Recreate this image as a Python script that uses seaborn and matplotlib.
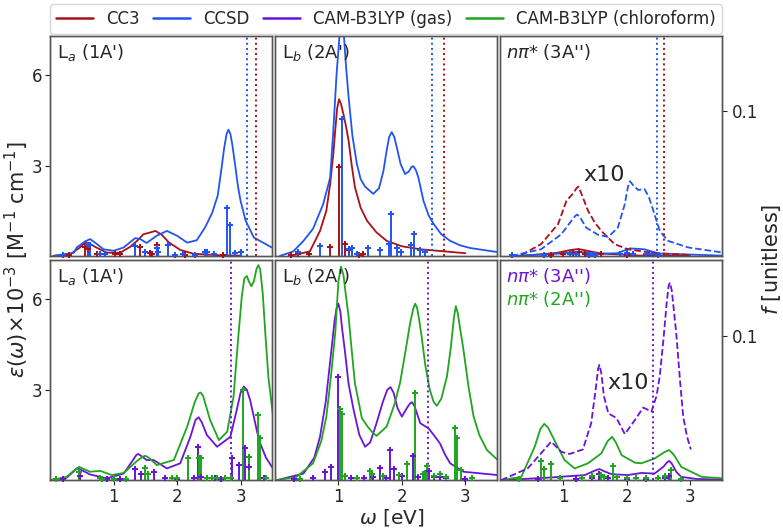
import numpy as np
import pandas as pd
import seaborn as sns
import matplotlib.pyplot as plt

sns.set_style("ticks")
plt.rcParams['font.family'] = ['DejaVu Sans']

# colours
CC3 = '#A8101A'
CCSD = '#2255F0'
GAS = '#6A14D8'
CHL = '#1FA51F'

# ---- top row, La (1A') ----
la_cc3_x = [0.05, 0.32, 0.47, 0.54, 0.58, 0.62, 0.71, 0.89, 1.10, 1.26, 1.37, 1.47, 1.58, 1.66, 1.76, 1.87, 2.05,
            2.26, 2.68, 3.00]
la_cc3_y = [0.00, 0.06, 0.28, 0.42, 0.44, 0.41, 0.30, 0.11, 0.10, 0.30, 0.50, 0.72, 0.78, 0.83, 0.70, 0.45, 0.20,
            0.07, 0.02, 0.01]
la_ccsd_x = [0.05, 0.37, 0.42, 0.55, 0.63, 0.74, 0.84, 1.00, 1.16, 1.34, 1.42, 1.52, 1.68, 1.84, 2.00, 2.16, 2.31,
             2.44, 2.55, 2.64, 2.70, 2.74, 2.78, 2.81, 2.84, 2.87, 2.92, 2.96, 3.00, 3.08, 3.21, 3.51]
la_ccsd_y = [0.00, 0.10, 0.28, 0.48, 0.56, 0.39, 0.22, 0.17, 0.28, 0.59, 0.56, 0.43, 0.67, 0.83, 0.67, 0.44, 0.52,
             0.94, 1.41, 2.00, 2.90, 3.55, 4.05, 4.19, 4.05, 3.70, 2.94, 2.30, 1.83, 1.17, 0.61, 0.26]
la_cc3_stick_x = [0.29, 0.55, 0.59, 0.74, 1.02, 1.10, 1.42, 1.58, 1.61, 1.68, 2.13, 2.73]
la_cc3_stick_f = [0.0008, 0.006, 0.005, 0.001, 0.001, 0.001, 0.006, 0.0022, 0.0015, 0.0077, 0.0008, 0.0005]
la_ccsd_stick_x = [0.21, 0.59, 0.63, 0.78, 0.87, 1.34, 1.50, 1.68, 1.70, 1.85, 1.97, 2.10, 2.29, 2.44, 2.47, 2.58,
                   2.79, 2.84, 2.92, 3.00]
la_ccsd_stick_f = [0.0008, 0.0072, 0.0077, 0.001, 0.001, 0.0066, 0.003, 0.0054, 0.003, 0.0077, 0.0008, 0.001,
                   0.0008, 0.003, 0.0025, 0.001, 0.0334, 0.0212, 0.0022, 0.0025]

# ---- top row, Lb (2A') ----
lb_cc3_x = [0.24, 0.55, 0.71, 0.81, 0.87, 0.92, 0.95, 0.98, 1.01, 1.04, 1.08, 1.12, 1.16, 1.21, 1.26, 1.35, 1.45,
            1.60, 1.76, 2.00, 2.29, 3.00]
lb_cc3_y = [0.00, 0.15, 0.83, 1.50, 2.39, 3.40, 4.17, 4.90, 5.20, 5.05, 4.70, 4.30, 3.83, 3.00, 2.28, 1.60, 1.17,
            0.78, 0.50, 0.32, 0.22, 0.09]
lb_ccsd_x = [0.08, 0.29, 0.45, 0.60, 0.76, 0.87, 0.92, 0.97, 1.02, 1.05, 1.08, 1.12, 1.16, 1.22, 1.29, 1.35, 1.42,
             1.55, 1.64, 1.71, 1.76, 1.80, 1.84, 1.88, 1.92, 1.98, 2.05, 2.11, 2.15, 2.18, 2.22, 2.26, 2.34, 2.42,
             2.50, 2.62, 2.76, 2.92, 3.08, 3.50]
lb_ccsd_y = [0.00, 0.15, 0.50, 0.90, 1.72, 2.60, 4.17, 6.00, 7.40, 7.80, 7.50, 6.30, 5.28, 4.00, 3.06, 2.55, 2.30,
             2.06, 2.25, 2.83, 3.50, 3.95, 4.11, 3.95, 3.60, 3.05, 2.72, 2.80, 2.95, 2.98, 2.85, 2.60, 1.83, 1.35,
             1.06, 0.72, 0.50, 0.35, 0.26, 0.13]
lb_cc3_stick_x = [0.25, 0.36, 0.53, 0.87, 1.01, 1.10, 1.17, 1.32, 1.38]
lb_cc3_stick_f = [0.0008, 0.0015, 0.0015, 0.006, 0.0615, 0.008, 0.004, 0.0008, 0.0015]
lb_ccsd_stick_x = [0.37, 0.71, 1.05, 1.16, 1.22, 1.30, 1.47, 1.66, 1.80, 1.83, 1.92, 1.98, 2.14, 2.19, 2.28, 2.36]
lb_ccsd_stick_f = [0.0028, 0.0066, 0.0948, 0.0045, 0.0054, 0.001, 0.0056, 0.0038, 0.0084, 0.029, 0.0054, 0.0025,
                   0.0072, 0.015, 0.004, 0.0025]

# ---- top row, n pi* (3A'') ----
np_cc3_x = [0.34, 0.90, 1.10, 1.24, 1.40, 1.60, 2.20, 3.00]
np_cc3_y = [0.00, 0.10, 0.19, 0.23, 0.16, 0.08, 0.01, 0.00]
np_cc3_x10_x = [0.34, 0.65, 0.92, 1.05, 1.15, 1.21, 1.24, 1.28, 1.39, 1.50, 1.60, 1.81, 2.02, 2.28, 2.55, 3.00]
np_cc3_x10_y = [0.03, 0.39, 1.06, 1.83, 2.06, 2.25, 2.30, 2.10, 1.50, 1.10, 0.83, 0.39, 0.22, 0.14, 0.08, 0.03]
np_ccsd_x = [0.20, 0.90, 1.22, 1.55, 1.85, 2.05, 2.28, 2.50, 3.50]
np_ccsd_y = [0.00, 0.07, 0.14, 0.07, 0.09, 0.25, 0.22, 0.08, 0.01]
np_ccsd_x10_x = [0.18, 0.65, 0.97, 1.13, 1.19, 1.22, 1.26, 1.36, 1.55, 1.71, 1.86, 1.97, 2.02, 2.05, 2.10, 2.18,
                 2.28, 2.35, 2.42, 2.52, 2.65, 2.97, 3.52]
np_ccsd_x10_y = [0.00, 0.22, 0.72, 1.17, 1.33, 1.37, 1.30, 0.94, 0.70, 0.63, 0.94, 1.72, 2.30, 2.48, 2.35, 2.19,
                 2.22, 1.95, 1.50, 0.83, 0.50, 0.28, 0.11]
np_cc3_stick_x = [0.80, 1.00, 1.15, 1.25, 1.35, 1.60, 2.00]
np_cc3_stick_f = [0.0008, 0.0015, 0.002, 0.0025, 0.0015, 0.001, 0.0005]
np_ccsd_stick_x = [0.20, 0.70, 1.10, 1.20, 1.40, 1.50, 1.90, 2.00, 2.10, 2.30, 2.40, 2.50]
np_ccsd_stick_f = [0.0005, 0.0008, 0.0012, 0.0015, 0.0008, 0.0008, 0.0012, 0.002, 0.0015, 0.001, 0.0012, 0.0008]

# ---- bottom row, La (1A') ----
la_gas_x = [0.00, 0.26, 0.40, 0.44, 0.50, 0.63, 0.89, 1.16, 1.30, 1.36, 1.39, 1.45, 1.52, 1.63, 1.84, 2.05, 2.21,
            2.29, 2.34, 2.39, 2.47, 2.63, 2.84, 2.94, 3.00, 3.05, 3.10, 3.15, 3.22, 3.29, 3.40, 3.51]
la_gas_y = [0.00, 0.08, 0.35, 0.39, 0.33, 0.19, 0.06, 0.22, 0.65, 0.84, 0.87, 0.78, 0.67, 0.67, 0.39, 0.56, 1.44,
            2.00, 2.09, 1.92, 1.50, 1.11, 1.44, 2.33, 2.90, 3.11, 3.00, 2.67, 2.00, 1.33, 0.75, 0.39]
la_chl_x = [0.00, 0.26, 0.41, 0.46, 0.52, 0.63, 0.79, 0.97, 1.16, 1.37, 1.46, 1.50, 1.56, 1.68, 1.95, 2.16, 2.28,
            2.34, 2.37, 2.41, 2.52, 2.66, 2.79, 2.89, 2.97, 3.02, 3.06, 3.10, 3.13, 3.17, 3.21, 3.25, 3.28, 3.31,
            3.35, 3.39, 3.44, 3.51]
la_chl_y = [0.00, 0.11, 0.38, 0.44, 0.38, 0.28, 0.31, 0.17, 0.24, 0.64, 0.78, 0.81, 0.74, 0.50, 0.67, 1.78, 2.60,
            2.88, 2.91, 2.80, 2.00, 1.33, 1.61, 2.78, 4.89, 6.10, 6.70, 6.78, 6.60, 6.44, 6.60, 7.00, 7.14, 7.00,
            6.20, 4.89, 3.40, 2.17]
la_gas_stick_x = [0.20, 0.45, 0.47, 0.90, 1.10, 1.34, 1.43, 1.63, 1.81, 2.00, 2.26, 2.33, 2.37, 2.60, 2.70, 2.87,
                  2.97, 3.07, 3.14, 3.37]
la_gas_stick_f = [0.0008, 0.0058, 0.003, 0.001, 0.001, 0.008, 0.0046, 0.0058, 0.0015, 0.001, 0.0015, 0.023, 0.0025,
                  0.0012, 0.001, 0.0156, 0.0104, 0.0225, 0.0092, 0.0015]
la_chl_stick_x = [0.10, 0.45, 0.79, 0.82, 1.00, 1.20, 1.50, 1.55, 1.92, 2.00, 2.18, 2.35, 2.38, 2.47, 2.55, 2.63,
                  2.75, 2.85, 3.04, 3.14, 3.28, 3.31, 3.40]
la_chl_stick_f = [0.0008, 0.0058, 0.0012, 0.001, 0.0008, 0.0008, 0.0085, 0.004, 0.0015, 0.0012, 0.015, 0.0154,
                  0.015, 0.0015, 0.0015, 0.0012, 0.0015, 0.0012, 0.062, 0.016, 0.045, 0.029, 0.0015]

# ---- bottom row, Lb (2A') ----
lb_gas_x = [0.03, 0.45, 0.62, 0.71, 0.80, 0.89, 0.94, 0.97, 1.00, 1.03, 1.06, 1.10, 1.16, 1.24, 1.33, 1.42, 1.50,
            1.60, 1.70, 1.77, 1.82, 1.87, 1.93, 2.00, 2.08, 2.13, 2.16, 2.20, 2.29, 2.42, 2.52, 2.60, 2.68, 2.76,
            2.97, 3.51]
lb_gas_y = [0.00, 0.22, 0.75, 1.44, 2.60, 4.33, 5.30, 5.70, 5.86, 5.60, 5.00, 4.33, 3.20, 2.33, 1.50, 1.11, 1.25,
            1.89, 2.60, 3.00, 3.09, 2.90, 2.40, 2.11, 2.40, 2.55, 2.59, 2.45, 1.89, 1.72, 1.45, 1.22, 0.85, 0.56,
            0.28, 0.17]
lb_chl_x = [0.03, 0.34, 0.60, 0.73, 0.81, 0.88, 0.95, 1.00, 1.04, 1.08, 1.12, 1.16, 1.21, 1.26, 1.37, 1.46, 1.53,
            1.60, 1.76, 1.88, 1.97, 2.05, 2.13, 2.18, 2.21, 2.24, 2.27, 2.31, 2.37, 2.44, 2.50, 2.55, 2.62, 2.71,
            2.77, 2.82, 2.85, 2.88, 2.92, 2.97, 3.05, 3.13, 3.22, 3.34, 3.51]
lb_chl_y = [0.00, 0.11, 0.56, 1.30, 2.11, 3.40, 4.89, 6.60, 7.09, 6.80, 6.10, 5.44, 4.30, 3.22, 2.06, 1.78, 1.60,
            1.47, 1.78, 2.50, 3.22, 4.20, 5.22, 5.70, 5.86, 5.72, 5.35, 4.78, 3.80, 3.00, 2.60, 2.47, 2.70, 3.44,
            4.40, 5.40, 5.78, 5.55, 5.00, 4.33, 3.10, 2.11, 1.50, 1.00, 0.67]
lb_gas_stick_x = [0.30, 0.60, 0.79, 0.89, 1.00, 1.20, 1.40, 1.55, 1.65, 1.75, 1.81, 1.88, 2.00, 2.17, 2.25, 2.42,
                  2.50, 2.60, 2.70, 3.00]
lb_gas_stick_f = [0.001, 0.0012, 0.0058, 0.0092, 0.0713, 0.0012, 0.0015, 0.0025, 0.0087, 0.0015, 0.021, 0.0076,
                  0.003, 0.017, 0.0025, 0.0064, 0.0025, 0.002, 0.0015, 0.0008]
lb_chl_stick_x = [0.40, 1.03, 1.06, 1.10, 1.30, 1.49, 1.53, 1.70, 1.95, 2.08, 2.21, 2.33, 2.37, 2.39, 2.50, 2.60,
                  2.70, 2.83, 2.87, 2.93, 3.10]
lb_chl_stick_f = [0.0008, 0.0495, 0.046, 0.003, 0.0012, 0.0064, 0.004, 0.003, 0.0035, 0.0115, 0.060, 0.004, 0.005,
                  0.01, 0.003, 0.004, 0.0025, 0.036, 0.029, 0.0069, 0.0015]

# ---- bottom row, n pi* ----
np_gas_x = [0.02, 0.81, 1.34, 1.50, 1.57, 1.64, 1.76, 2.02, 2.23, 2.44, 2.58, 2.64, 2.67, 2.71, 2.78, 2.86, 3.10,
            3.52]
np_gas_y = [0.00, 0.09, 0.17, 0.32, 0.37, 0.30, 0.20, 0.17, 0.24, 0.22, 0.45, 0.60, 0.64, 0.55, 0.28, 0.11, 0.04,
            0.02]
np_gas_x10_x = [0.02, 0.44, 0.65, 0.81, 0.97, 1.10, 1.31, 1.44, 1.51, 1.55, 1.57, 1.60, 1.64, 1.71, 1.84, 1.97,
                2.13, 2.26, 2.39, 2.47, 2.52, 2.58, 2.63, 2.66, 2.68, 2.71, 2.74, 2.78, 2.84, 2.89, 2.95, 3.01]
np_gas_x10_y = [0.00, 0.39, 0.89, 1.28, 0.94, 0.87, 1.02, 1.89, 3.00, 3.70, 3.83, 3.55, 2.80, 2.22, 2.06, 1.53,
                2.00, 2.41, 2.28, 2.80, 3.44, 4.70, 5.90, 6.45, 6.56, 6.30, 5.70, 4.89, 3.30, 2.11, 1.45, 1.02]
np_chl_x = [0.02, 0.34, 0.55, 0.64, 0.70, 0.76, 0.86, 1.02, 1.18, 1.39, 1.60, 1.70, 1.77, 1.83, 1.92, 2.13, 2.23,
            2.44, 2.60, 2.67, 2.74, 2.86, 3.18, 3.52]
np_chl_y = [0.00, 0.11, 1.11, 1.70, 1.87, 1.75, 1.33, 0.67, 0.39, 0.56, 0.89, 1.30, 1.44, 1.25, 0.83, 0.58, 0.56,
            0.72, 0.94, 1.00, 0.85, 0.44, 0.11, 0.06]
np_gas_stick_x = [0.60, 1.20, 1.45, 1.57, 1.70, 2.00, 2.30, 2.60, 2.67]
np_gas_stick_f = [0.0005, 0.0008, 0.0015, 0.0046, 0.0015, 0.0008, 0.001, 0.0015, 0.003]
np_chl_stick_x = [0.30, 0.65, 0.69, 0.81, 0.95, 1.30, 1.45, 1.60, 1.65, 1.78, 1.85, 2.00, 2.15, 2.30, 2.50, 2.60,
                  2.70, 2.85]
np_chl_stick_f = [0.0008, 0.0133, 0.008, 0.0115, 0.0015, 0.0012, 0.003, 0.0035, 0.002, 0.0097, 0.0025, 0.0015,
                  0.0012, 0.0015, 0.0015, 0.003, 0.007, 0.001]

# vertical dotted lines (eV)
vline_top = [(3.10, 3.24), (2.47, 2.67), (2.48, 2.58)]   # (CCSD, CC3)
vline_bottom = [2.85, 2.41, 2.41]                         # CAM-B3LYP gas

titles_top = ["L$_a$ (1A')", "L$_b$ (2A')", "$n\\pi$* (3A'')"]
titles_bottom = ["L$_a$ (1A')", "L$_b$ (2A')", None]

EPS_MAX = 7.3
F_MAX = 0.152


def curve(ax, x, y, color, ls='-'):
    sns.lineplot(x=x, y=y, ax=ax, color=color, lw=1.3, linestyle=ls, sort=False, estimator=None)


def sticks(ax, x, f, color):
    ax.vlines(x, 0, f, color=color, lw=1.4)
    sns.scatterplot(x=x, y=f, ax=ax, color=color, marker='P', s=16, linewidth=0, clip_on=False, zorder=3)


fig, axes = plt.subplots(2, 3, figsize=(7.83, 5.30), dpi=100, sharex=True, sharey=True)
fig.subplots_adjust(left=0.064, right=0.922, top=0.932, bottom=0.094, wspace=0.012, hspace=0.02)

twins = [[ax.twinx() for ax in row] for row in axes]

# top row
curve(axes[0, 0], la_cc3_x, la_cc3_y, CC3)
curve(axes[0, 0], la_ccsd_x, la_ccsd_y, CCSD)
sticks(twins[0][0], la_cc3_stick_x, la_cc3_stick_f, CC3)
sticks(twins[0][0], la_ccsd_stick_x, la_ccsd_stick_f, CCSD)

curve(axes[0, 1], lb_cc3_x, lb_cc3_y, CC3)
curve(axes[0, 1], lb_ccsd_x, lb_ccsd_y, CCSD)
sticks(twins[0][1], lb_cc3_stick_x, lb_cc3_stick_f, CC3)
sticks(twins[0][1], lb_ccsd_stick_x, lb_ccsd_stick_f, CCSD)

curve(axes[0, 2], np_cc3_x, np_cc3_y, CC3)
curve(axes[0, 2], np_ccsd_x, np_ccsd_y, CCSD)
curve(axes[0, 2], np_cc3_x10_x, np_cc3_x10_y, CC3, '--')
curve(axes[0, 2], np_ccsd_x10_x, np_ccsd_x10_y, CCSD, '--')
sticks(twins[0][2], np_cc3_stick_x, np_cc3_stick_f, CC3)
sticks(twins[0][2], np_ccsd_stick_x, np_ccsd_stick_f, CCSD)

# bottom row
curve(axes[1, 0], la_gas_x, la_gas_y, GAS)
curve(axes[1, 0], la_chl_x, la_chl_y, CHL)
sticks(twins[1][0], la_gas_stick_x, la_gas_stick_f, GAS)
sticks(twins[1][0], la_chl_stick_x, la_chl_stick_f, CHL)

curve(axes[1, 1], lb_gas_x, lb_gas_y, GAS)
curve(axes[1, 1], lb_chl_x, lb_chl_y, CHL)
sticks(twins[1][1], lb_gas_stick_x, lb_gas_stick_f, GAS)
sticks(twins[1][1], lb_chl_stick_x, lb_chl_stick_f, CHL)

curve(axes[1, 2], np_gas_x, np_gas_y, GAS)
curve(axes[1, 2], np_chl_x, np_chl_y, CHL)
curve(axes[1, 2], np_gas_x10_x, np_gas_x10_y, GAS, '--')
sticks(twins[1][2], np_gas_stick_x, np_gas_stick_f, GAS)
sticks(twins[1][2], np_chl_stick_x, np_chl_stick_f, CHL)

for j in range(3):
    ax = axes[0, j]
    ax.axvline(vline_top[j][0], color=CCSD, ls=':', lw=1.4)
    ax.axvline(vline_top[j][1], color=CC3, ls=':', lw=1.4)
    axes[1, j].axvline(vline_bottom[j], color=GAS, ls=':', lw=1.4)

for i in range(2):
    for j in range(3):
        ax = axes[i, j]
        tw = twins[i][j]
        ax.set_xlim(0, 3.5)
        ax.set_ylim(0, EPS_MAX)
        tw.set_ylim(0, F_MAX)
        ax.set_xticks([1, 2, 3])
        ax.set_yticks([3, 6])
        tw.set_yticks([0.1])
        ax.tick_params(labelsize=12, pad=2)
        tw.tick_params(labelsize=12)
        ax.set_xlabel('')
        ax.set_ylabel('')
        if i == 0:
            ax.tick_params(axis='x', length=0)
        if j != 0:
            ax.tick_params(axis='y', length=0)
        if j != 2:
            tw.tick_params(axis='y', length=0, labelright=False)
        for sp in list(ax.spines.values()) + list(tw.spines.values()):
            sp.set_color('#555555')
            sp.set_linewidth(1.0)
        t = titles_top[j] if i == 0 else titles_bottom[j]
        if t:
            ax.text(0.03, 0.975, t, transform=ax.transAxes, ha='left', va='top', fontsize=13)

axes[1, 2].text(0.03, 0.975, "$n\\pi$* (3A'')", transform=axes[1, 2].transAxes, ha='left', va='top',
                fontsize=13, color=GAS)
axes[1, 2].text(0.03, 0.87, "$n\\pi$* (2A'')", transform=axes[1, 2].transAxes, ha='left', va='top',
                fontsize=13, color=CHL)
axes[0, 2].text(1.64, 2.67, "x10", ha='center', va='center', fontsize=16)
axes[1, 2].text(2.02, 3.24, "x10", ha='center', va='center', fontsize=16)

fig.text(0.5, 0.004, r"$\omega$ [eV]", ha='center', va='bottom', fontsize=14.5)
fig.text(0.022, 0.51, r"$\varepsilon(\omega)\!\times\!10^{-3}$ [M$^{-1}$ cm$^{-1}$]", rotation=90,
         ha='center', va='center', fontsize=15)
fig.text(0.985, 0.51, r"$f$ [unitless]", rotation=90, ha='center', va='center', fontsize=15)

handles = [plt.Line2D([], [], color=c, lw=1.8) for c in (CC3, CCSD, GAS, CHL)]
labels = ['CC3', 'CCSD', 'CAM-B3LYP (gas)', 'CAM-B3LYP (chloroform)']
fig.legend(handles, labels, loc='upper left', bbox_to_anchor=(0.064, 0.90, 0.858, 0.092), ncol=4,
           mode='expand', fontsize=12, frameon=True, borderaxespad=0, borderpad=0.35, handlelength=2.2)

fig.savefig('out.png', dpi=100)
